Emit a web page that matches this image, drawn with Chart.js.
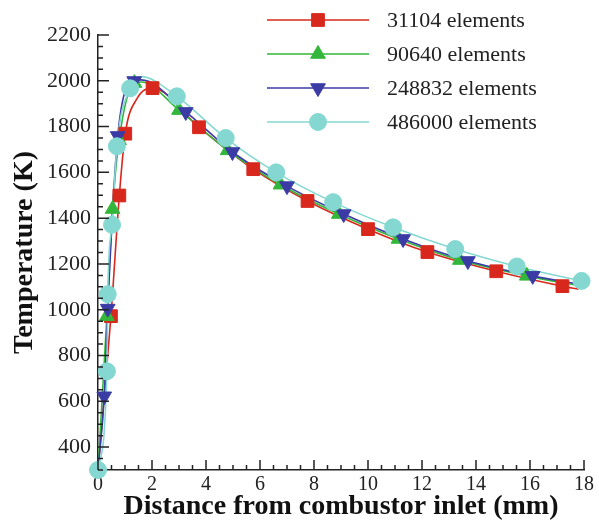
<!DOCTYPE html>
<html>
<head>
<meta charset="utf-8">
<script src="https://cdn.jsdelivr.net/npm/chart.js@4.4.1/dist/chart.umd.min.js"></script>
<style>
html, body { margin: 0; padding: 0; background: #fff; }
</style>
</head>
<body>
<canvas id="myChart" width="599" height="524"></canvas>
<script>
// legend labels
var seriesNames = ['31104 elements', '90640 elements', '248832 elements', '486000 elements'];

// marker points (x in mm, y in K)
var redMarkX = [0.48, 0.79, 1.01, 2.02, 3.74, 5.75, 7.76, 10.0, 12.2, 14.75, 17.2];
var redMarkY = [972, 1499, 1769, 1968, 1797, 1614, 1475, 1352, 1252, 1168, 1103];
var greenMarkX = [0.33, 0.54, 0.78, 1.35, 3.0, 4.8, 6.76, 8.92, 11.13, 13.4, 15.88];
var greenMarkY = [972, 1440, 1740, 1990, 1872, 1696, 1546, 1418, 1309, 1217, 1148];
var blueMarkX = [0.23, 0.36, 0.73, 1.34, 3.25, 4.98, 7.0, 9.1, 11.3, 13.7, 16.1];
var blueMarkY = [622, 1005, 1759, 1999, 1864, 1689, 1540, 1418, 1309, 1213, 1148];
var cyanMarkX = [0, 0.33, 0.36, 0.52, 0.70, 1.19, 2.92, 4.73, 6.6, 8.71, 10.93, 13.23, 15.51, 17.91];
var cyanMarkY = [300, 731, 1068, 1371, 1714, 1967, 1932, 1750, 1600, 1470, 1360, 1265, 1189, 1126];

// extra curve points without markers (start, peak, end)
var redLineX = [0, 1.45, 17.8];
var redLineY = [300, 1923, 1090];
var greenLineX = [0, 1.6, 17.8];
var greenLineY = [300, 1995, 1105];
var blueLineX = [0, 1.6, 17.8];
var blueLineY = [300, 2004, 1112];
var cyanLineX = [1.6];
var cyanLineY = [2018];

// axis ticks
var xTicks = [0, 2, 4, 6, 8, 10, 12, 14, 16, 18];
var yTicks = [400, 600, 800, 1000, 1200, 1400, 1600, 1800, 2000, 2200];

function toPoints(xs, ys) {
	var pts = [];
	for (var i = 0; i < xs.length; i++) {
		pts.push({x: xs[i], y: ys[i]});
	}
	return pts;
}

function curve(mx, my, lx, ly) {
	var pts = toPoints(mx, my).concat(toPoints(lx, ly));
	pts.sort(function (a, b) { return a.x - b.x; });
	return pts;
}

var colors = ['#d8281d', '#33b63a', '#3b3ba6', '#85d8d1'];
var styles = ['rect', 'triangle', 'triangle', 'circle'];
var rotations = [0, 0, 180, 0];
var radii = [9, 8.5, 8.5, 8.5];

var marks = [
	toPoints(redMarkX, redMarkY),
	toPoints(greenMarkX, greenMarkY),
	toPoints(blueMarkX, blueMarkY),
	toPoints(cyanMarkX, cyanMarkY)
];
var curves = [
	curve(redMarkX, redMarkY, redLineX, redLineY),
	curve(greenMarkX, greenMarkY, greenLineX, greenLineY),
	curve(blueMarkX, blueMarkY, blueLineX, blueLineY),
	curve(cyanMarkX, cyanMarkY, cyanLineX, cyanLineY)
];

var datasets = [];
for (var s = 0; s < 4; s++) {
	datasets.push({
		label: seriesNames[s],
		data: curves[s],
		showLine: true,
		borderColor: colors[s],
		borderWidth: 1.6,
		pointRadius: 0,
		cubicInterpolationMode: 'monotone',
		fill: false,
		clip: false,
		order: 10 - s
	});
	datasets.push({
		label: seriesNames[s] + ' markers',
		data: marks[s],
		showLine: false,
		backgroundColor: colors[s],
		borderColor: colors[s],
		borderWidth: 1,
		pointStyle: styles[s],
		rotation: rotations[s],
		pointRadius: radii[s],
		clip: false,
		order: 5 - s
	});
}

// ticks pointing inside, majors and minors
var innerTicks = {
	id: 'innerTicks',
	afterDraw: function (chart) {
		var ctx = chart.ctx;
		var xs = chart.scales.x;
		var ys = chart.scales.y;
		var a = chart.chartArea;
		ctx.save();
		ctx.strokeStyle = '#222';
		ctx.lineWidth = 1.5;
		ctx.beginPath();
		var v, p, len;
		for (v = 300; v <= 2200; v += 50) {
			p = ys.getPixelForValue(v);
			len = (v % 200 == 0) ? 11 : 5;
			ctx.moveTo(a.left, p);
			ctx.lineTo(a.left + len, p);
		}
		for (v = 0; v <= 18.001; v += 0.5) {
			p = xs.getPixelForValue(v);
			len = (Math.abs(v % 2) < 0.01) ? 10 : 5;
			ctx.moveTo(p, a.bottom);
			ctx.lineTo(p, a.bottom - len);
		}
		ctx.stroke();
		ctx.restore();
	}
};

// legend: line with marker in the middle
var lineLegend = {
	id: 'lineLegend',
	afterDraw: function (chart) {
		var ctx = chart.ctx;
		var rows = [20, 54, 88, 122];
		ctx.save();
		for (var i = 0; i < seriesNames.length; i++) {
			ctx.strokeStyle = colors[i];
			ctx.fillStyle = colors[i];
			ctx.lineWidth = 1.6;
			ctx.beginPath();
			ctx.moveTo(267, rows[i]);
			ctx.lineTo(369, rows[i]);
			ctx.stroke();
			ctx.lineWidth = 1;
			Chart.helpers.drawPoint(ctx, {pointStyle: styles[i], radius: radii[i], rotation: rotations[i], borderWidth: 1}, 318, rows[i]);
			ctx.fillStyle = '#222';
			ctx.font = '22px "Liberation Serif", serif';
			ctx.textAlign = 'left';
			ctx.textBaseline = 'middle';
			ctx.fillText(seriesNames[i], 387, rows[i] + 1);
		}
		ctx.restore();
	}
};

Chart.defaults.font.family = '"Liberation Serif", serif';

window.ctx = document.getElementById('myChart').getContext('2d');
window.chart = new Chart(ctx, {
	type: 'scatter',
	data: { datasets: datasets },
	plugins: [innerTicks, lineLegend],
	options: {
		responsive: false,
		animation: false,
		layout: { padding: { top: 35, right: 15, left: 0, bottom: 0 } },
		plugins: {
			legend: { display: false },
			tooltip: { enabled: false }
		},
		scales: {
			x: {
				type: 'linear',
				min: 0,
				max: 18,
				grid: { display: false, drawTicks: false },
				border: { display: true, color: '#222', width: 1.5 },
				afterBuildTicks: function (scale) {
					scale.ticks = xTicks.map(function (v) { return {value: v}; });
				},
				afterFit: function (scale) { scale.height = 54; },
				ticks: {
					padding: 3,
					color: '#222',
					font: { family: '"Liberation Serif", serif', size: 20 },
					callback: function (v) { return String(v); }
				},
				title: {
					display: true,
					text: 'Distance from combustor inlet (mm)',
					color: '#111',
					padding: { top: 0, bottom: 0 },
					font: { family: '"Liberation Serif", serif', size: 28, weight: 'bold' }
				}
			},
			y: {
				type: 'linear',
				min: 300,
				max: 2200,
				grid: { display: false, drawTicks: false },
				border: { display: true, color: '#222', width: 1.5 },
				afterBuildTicks: function (scale) {
					scale.ticks = yTicks.map(function (v) { return {value: v}; });
				},
				afterFit: function (scale) { scale.width = 98; },
				ticks: {
					padding: 7,
					color: '#222',
					font: { family: '"Liberation Serif", serif', size: 22 },
					callback: function (v) { return String(v); }
				},
				title: {
					display: true,
					text: 'Temperature (K)',
					color: '#111',
					padding: { top: 8, bottom: 0 },
					font: { family: '"Liberation Serif", serif', size: 28, weight: 'bold' }
				}
			}
		}
	}
});
</script>
</body>
</html>
